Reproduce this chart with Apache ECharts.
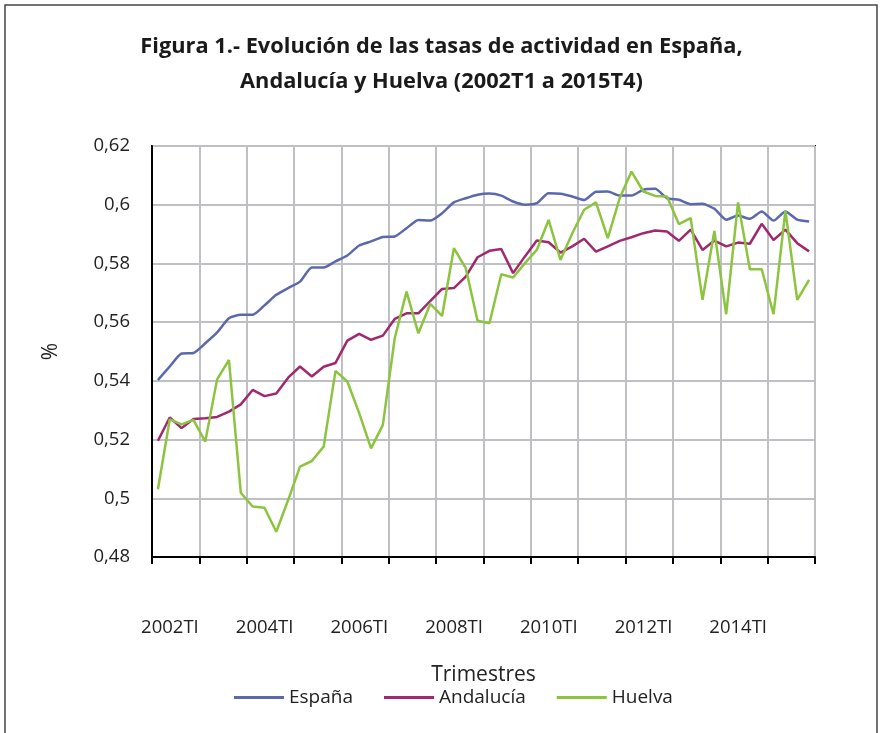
<!DOCTYPE html>
<html>
<head>
<meta charset="utf-8">
<script src="https://cdn.jsdelivr.net/npm/echarts@6/dist/echarts.min.js"></script>
<style>
  html, body { margin: 0; padding: 0; background: #fff; }
  #main { width: 883px; height: 733px; }
</style>
</head>
<body>
<div id="main"></div>
<script>
// trimestres 2002TI .. 2015TIV
var years = [2002, 2003, 2004, 2005, 2006, 2007, 2008, 2009, 2010, 2011, 2012, 2013, 2014, 2015];
var quarterNames = ['TI', 'TII', 'TIII', 'TIV'];
var categories = [];
years.forEach(function (y) {
  quarterNames.forEach(function (q) { categories.push(y + q); });
});

var espana = [
  0.5403, 0.5449, 0.5493, 0.5495, 0.5528, 0.5565, 0.5613, 0.5625,
  0.5625, 0.5657, 0.5693, 0.5716, 0.5738, 0.5786, 0.5786, 0.5807,
  0.5827, 0.5861, 0.5875, 0.5890, 0.5892, 0.5920, 0.5948, 0.5946,
  0.5971, 0.6008, 0.6022, 0.6034, 0.6038, 0.6031, 0.6011, 0.6000,
  0.6005, 0.6039, 0.6037, 0.6028, 0.6016, 0.6044, 0.6045, 0.6031,
  0.6031, 0.6051, 0.6054, 0.6022, 0.6017, 0.6002, 0.6003, 0.5986,
  0.5949, 0.5963, 0.5952, 0.5977, 0.5946, 0.5977, 0.5949, 0.5943
];
var andalucia = [
  0.5196, 0.5275, 0.5239, 0.5270, 0.5273, 0.5277, 0.5295, 0.5320,
  0.5369, 0.5348, 0.5357, 0.5411, 0.5449, 0.5415, 0.5448, 0.5461,
  0.5537, 0.5560, 0.5540, 0.5554, 0.5611, 0.5630, 0.5630, 0.5672,
  0.5713, 0.5716, 0.5755, 0.5821, 0.5843, 0.5849, 0.5767, 0.5824,
  0.5878, 0.5872, 0.5837, 0.5858, 0.5884, 0.5840, 0.5858, 0.5877,
  0.5889, 0.5903, 0.5912, 0.5909, 0.5877, 0.5915, 0.5846, 0.5878,
  0.5858, 0.5871, 0.5867, 0.5935, 0.5880, 0.5915, 0.5869, 0.5841
];
var huelva = [
  0.5031, 0.5269, 0.5252, 0.5267, 0.5193, 0.5405, 0.5471, 0.5019,
  0.4972, 0.4968, 0.4886, 0.4994, 0.5108, 0.5127, 0.5176, 0.5434,
  0.5398, 0.5290, 0.5170, 0.5250, 0.5545, 0.5704, 0.5562, 0.5662,
  0.5621, 0.5852, 0.5784, 0.5605, 0.5596, 0.5763, 0.5752, 0.5801,
  0.5846, 0.5948, 0.5812, 0.5903, 0.5983, 0.6008, 0.5886, 0.6022,
  0.6113, 0.6045, 0.6030, 0.6028, 0.5934, 0.5954, 0.5676, 0.5911,
  0.5627, 0.6008, 0.5780, 0.5780, 0.5627, 0.5980, 0.5676, 0.5744
];

var font = "'Open Sans', 'Noto Sans', sans-serif";
var chart = echarts.init(document.getElementById('main'));

chart.setOption({
  animation: false,
  backgroundColor: '#fff',
  color: ['#5B68AC', '#A1286F', '#8CC43F'],
  textStyle: { fontFamily: font },
  graphic: [{
    type: 'rect',
    shape: { x: 5, y: 5, width: 872, height: 760 },
    style: { fill: 'none', stroke: '#444', lineWidth: 1.5 },
    silent: true
  }],
  title: {
    text: 'Figura 1.- Evolución de las tasas de actividad en España,\nAndalucía y Huelva (2002T1 a 2015T4)',
    left: 'center',
    top: 24,
    textStyle: {
      fontFamily: font,
      fontSize: 21.8,
      fontWeight: 'bold',
      color: '#1a1a1a',
      lineHeight: 35,
      align: 'center'
    }
  },
  legend: {
    top: 683,
    left: 229,
    icon: 'rect',
    itemWidth: 50,
    itemHeight: 3,
    itemGap: 31,
    itemTextGap: 6,
    textStyle: { fontFamily: font, fontSize: 19, color: '#222' },
    data: ['España', 'Andalucía', 'Huelva']
  },
  grid: {
    left: 152,
    right: 68,
    top: 146,
    bottom: 176,
    show: true,
    borderColor: '#000',
    borderWidth: 2
  },
  xAxis: {
    type: 'category',
    data: categories,
    boundaryGap: true,
    name: 'Trimestres',
    nameLocation: 'middle',
    nameGap: 108,
    nameTextStyle: { fontFamily: font, fontSize: 21, color: '#222' },
    axisLine: { lineStyle: { color: '#000', width: 2 } },
    axisTick: { show: true, interval: 3, length: 7, lineStyle: { color: '#000', width: 2 } },
    axisLabel: {
      interval: 7,
      margin: 61,
      fontFamily: font,
      fontSize: 18.5,
      color: '#222',
      padding: [0, 0, 0, 24]
    },
    splitLine: { show: true, interval: 3, lineStyle: { color: '#BEC0C4', width: 2 } }
  },
  yAxis: {
    type: 'value',
    min: 0.48,
    max: 0.62,
    interval: 0.02,
    name: '%',
    nameLocation: 'middle',
    nameGap: 90,
    nameRotate: 90,
    nameTextStyle: { fontFamily: font, fontSize: 21, color: '#222' },
    axisLine: { show: true, lineStyle: { color: '#000', width: 2 } },
    axisTick: { show: false },
    axisLabel: {
      margin: 22,
      fontFamily: font,
      fontSize: 18.5,
      color: '#222',
      formatter: function (v) { return String(+v.toFixed(2)).replace('.', ','); }
    },
    splitLine: { show: true, lineStyle: { color: '#BEC0C4', width: 2 } }
  },
  series: [
    { name: 'España', type: 'line', data: espana, showSymbol: false, smooth: 0.2, lineStyle: { width: 2.5 } },
    { name: 'Andalucía', type: 'line', data: andalucia, showSymbol: false, lineStyle: { width: 2.5 } },
    { name: 'Huelva', type: 'line', data: huelva, showSymbol: false, lineStyle: { width: 2.5 } }
  ]
});
</script>
</body>
</html>
